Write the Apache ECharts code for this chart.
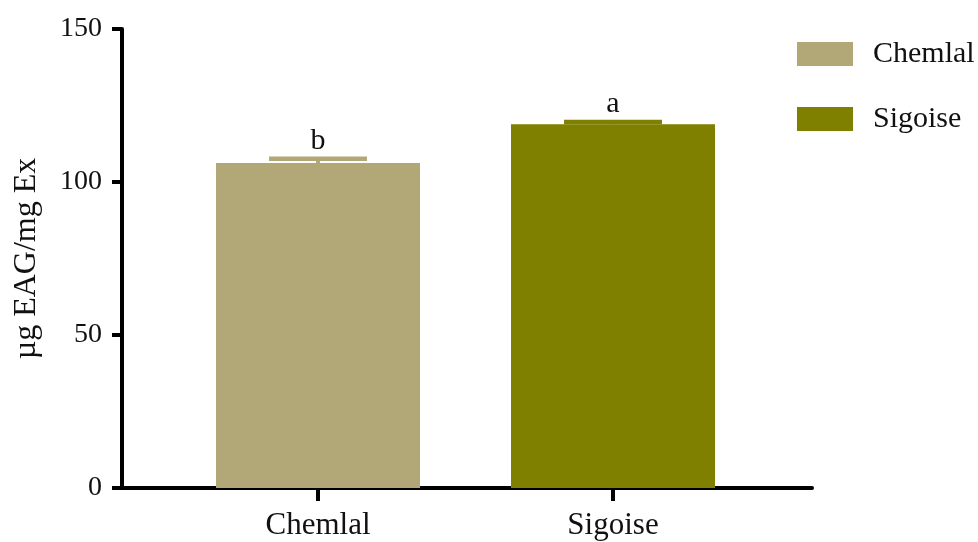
<!DOCTYPE html>
<html>
<head>
<meta charset="utf-8">
<script src="https://cdn.jsdelivr.net/npm/echarts/dist/echarts.min.js"></script>
<style>
html,body{margin:0;padding:0;background:#fff;}
#chart{width:978px;height:542px;}
</style>
</head>
<body>
<div id="chart"></div>
<script>
// ---- data ----
const categories = ['Chemlal', 'Sigoise'];
const means = [106.2, 118.9];
const errors = [1.4, 0.7];
const letters = ['b', 'a'];
const colors = ['#b2a877', '#7f7f00'];
const yTicks = [0, 50, 100, 150];
const yTitle = '\u00b5g EAG/mg Ex';

const FONT = '"Liberation Serif", "Times New Roman", serif';

const chart = echarts.init(document.getElementById('chart'), null, {renderer: 'canvas'});

const barSeries = categories.map((c, i) => ({
  name: c,
  type: 'bar',
  xAxisIndex: 1,
  yAxisIndex: 1,
  barWidth: 204,
  barGap: '-100%',
  itemStyle: {color: colors[i]},
  data: categories.map((_, j) => (j === i ? means[i] : null)),
  silent: true,
  z: 2
}));

const errData = categories.map((c, i) => [i, means[i], errors[i], letters[i]]);

const errSeries = {
  type: 'custom',
  xAxisIndex: 1,
  yAxisIndex: 1,
  z: 3,
  silent: true,
  data: errData,
  renderItem: function (params, api) {
    const idx = params.dataIndex;
    const x = api.value(0);
    const m = api.value(1);
    const e = api.value(2);
    const base = api.coord([x, m]);
    const top = api.coord([x, m + e]);
    const band = api.size([1, 0])[0];
    const half = band * 0.166;
    const col = colors[idx];
    return {
      type: 'group',
      children: [
        {type: 'line', shape: {x1: base[0], y1: base[1], x2: top[0], y2: top[1]},
         style: {stroke: col, lineWidth: 4}},
        {type: 'line', shape: {x1: top[0] - half, y1: top[1], x2: top[0] + half, y2: top[1]},
         style: {stroke: col, lineWidth: 4.5}},
        {type: 'text', x: top[0], y: top[1] - 3,
         style: {text: letters[idx], font: '30px ' + FONT, fill: '#111',
                 align: 'center', verticalAlign: 'bottom'}}
      ]
    };
  }
};

const option = {
  backgroundColor: '#ffffff',
  animation: false,
  grid: [
    {left: 122, right: 166, top: 29, bottom: 54},
    {left: 170.5, right: 217.5, top: 29, bottom: 54}
  ],
  legend: {
    orient: 'vertical',
    left: 792,
    top: 34,
    itemWidth: 56,
    itemHeight: 24,
    itemGap: 35,
    icon: 'rect',
    data: categories,
    textStyle: {fontFamily: FONT, fontSize: 30, color: '#111', padding: [0, 0, 0, 15]},
    selectedMode: false
  },
  xAxis: [
    {
      gridIndex: 0, type: 'value', min: 0, max: 1,
      axisLine: {show: true, lineStyle: {color: '#000', width: 4}},
      axisTick: {show: false}, axisLabel: {show: false}, splitLine: {show: false}
    },
    {
      gridIndex: 1, type: 'category', data: categories,
      axisLine: {show: false},
      axisTick: {show: true, alignWithLabel: true, length: 13, lineStyle: {color: '#000', width: 4}},
      axisLabel: {fontFamily: FONT, fontSize: 31, color: '#111', margin: 22},
      splitLine: {show: false}
    }
  ],
  yAxis: [
    {
      gridIndex: 0, type: 'value', min: yTicks[0], max: yTicks[yTicks.length - 1], interval: 50,
      name: yTitle, nameLocation: 'middle', nameGap: 79,
      nameTextStyle: {fontFamily: FONT, fontSize: 32, color: '#111'},
      axisLine: {show: true, lineStyle: {color: '#000', width: 4}},
      axisTick: {show: true, length: 10, lineStyle: {color: '#000', width: 4}},
      axisLabel: {fontFamily: FONT, fontSize: 28, color: '#111', margin: 20},
      splitLine: {show: false}
    },
    {
      gridIndex: 1, type: 'value', min: yTicks[0], max: yTicks[yTicks.length - 1], interval: 50,
      show: false, splitLine: {show: false}
    }
  ],
  series: [...barSeries, errSeries]
};

chart.setOption(option);
</script>
</body>
</html>
